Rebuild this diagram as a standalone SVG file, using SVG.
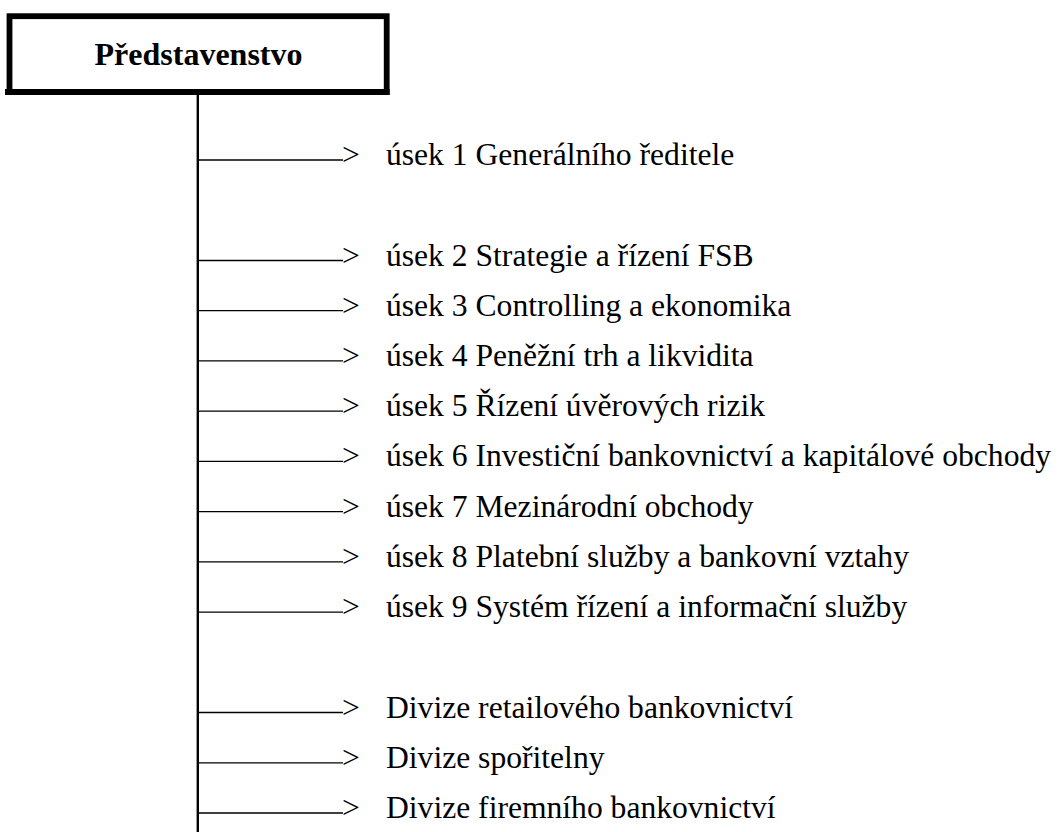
<svg xmlns="http://www.w3.org/2000/svg" width="1062" height="832" viewBox="0 0 1062 832">
  <style>
    .title { font-family: "Liberation Serif", "Times New Roman", serif; font-size: 32px; font-weight: bold; fill: #000; }
    .label { font-family: "Liberation Serif", "Times New Roman", serif; font-size: 31.6px; fill: #000; }
    .branch { stroke: #000; stroke-width: 1.3; fill: none; }
    .trunk { stroke: #000; stroke-width: 2.4; fill: none; }
  </style>
  <rect width="1062" height="832" fill="#fff"/>

  <!-- board box -->
  <g id="predstavenstvo">
    <rect x="9.5" y="16.2" width="377.2" height="75.8" fill="#fff" stroke="#000" stroke-width="5.8"/>
    <line x1="5" y1="92" x2="389.6" y2="92" stroke="#000" stroke-width="5.8"/>
    <text class="title" x="198.5" y="65" text-anchor="middle">Představenstvo</text>
  </g>

  <!-- trunk line and branches -->
  <g id="connectors">
    <line class="trunk" x1="197.8" y1="94" x2="197.8" y2="832"/>
    <line class="branch" x1="198" y1="160" x2="343" y2="160"/>
    <line class="branch" x1="198" y1="260.5" x2="343" y2="260.5"/>
    <line class="branch" x1="198" y1="310.7" x2="343" y2="310.7"/>
    <line class="branch" x1="198" y1="360.9" x2="343" y2="360.9"/>
    <line class="branch" x1="198" y1="411.2" x2="343" y2="411.2"/>
    <line class="branch" x1="198" y1="461.4" x2="343" y2="461.4"/>
    <line class="branch" x1="198" y1="511.6" x2="343" y2="511.6"/>
    <line class="branch" x1="198" y1="561.8" x2="343" y2="561.8"/>
    <line class="branch" x1="198" y1="612.1" x2="343" y2="612.1"/>
    <line class="branch" x1="198" y1="712.5" x2="343" y2="712.5"/>
    <line class="branch" x1="198" y1="762.8" x2="343" y2="762.8"/>
    <line class="branch" x1="198" y1="813" x2="343" y2="813"/>
  </g>

  <!-- units -->
  <g id="usek1"><text class="label" x="342" y="165">&gt;</text><text class="label" x="386" y="165">úsek 1 Generálního ředitele</text></g>
  <g id="usek2"><text class="label" x="342" y="265.5">&gt;</text><text class="label" x="386" y="265.5">úsek 2 Strategie a řízení FSB</text></g>
  <g id="usek3"><text class="label" x="342" y="315.7">&gt;</text><text class="label" x="386" y="315.7">úsek 3 Controlling a ekonomika</text></g>
  <g id="usek4"><text class="label" x="342" y="365.9">&gt;</text><text class="label" x="386" y="365.9">úsek 4 Peněžní trh a likvidita</text></g>
  <g id="usek5"><text class="label" x="342" y="416.2">&gt;</text><text class="label" x="386" y="416.2">úsek 5 Řízení úvěrových rizik</text></g>
  <g id="usek6"><text class="label" x="342" y="466.4">&gt;</text><text class="label" x="386" y="466.4">úsek 6 Investiční bankovnictví a kapitálové obchody</text></g>
  <g id="usek7"><text class="label" x="342" y="516.6">&gt;</text><text class="label" x="386" y="516.6">úsek 7 Mezinárodní obchody</text></g>
  <g id="usek8"><text class="label" x="342" y="566.8">&gt;</text><text class="label" x="386" y="566.8">úsek 8 Platební služby a bankovní vztahy</text></g>
  <g id="usek9"><text class="label" x="342" y="617.1">&gt;</text><text class="label" x="386" y="617.1">úsek 9 Systém řízení a informační služby</text></g>
  <g id="divize-retail"><text class="label" x="342" y="717.5">&gt;</text><text class="label" x="386" y="717.5">Divize retailového bankovnictví</text></g>
  <g id="divize-sporitelny"><text class="label" x="342" y="767.8">&gt;</text><text class="label" x="386" y="767.8">Divize spořitelny</text></g>
  <g id="divize-firemni"><text class="label" x="342" y="818">&gt;</text><text class="label" x="386" y="818">Divize firemního bankovnictví</text></g>
</svg>
